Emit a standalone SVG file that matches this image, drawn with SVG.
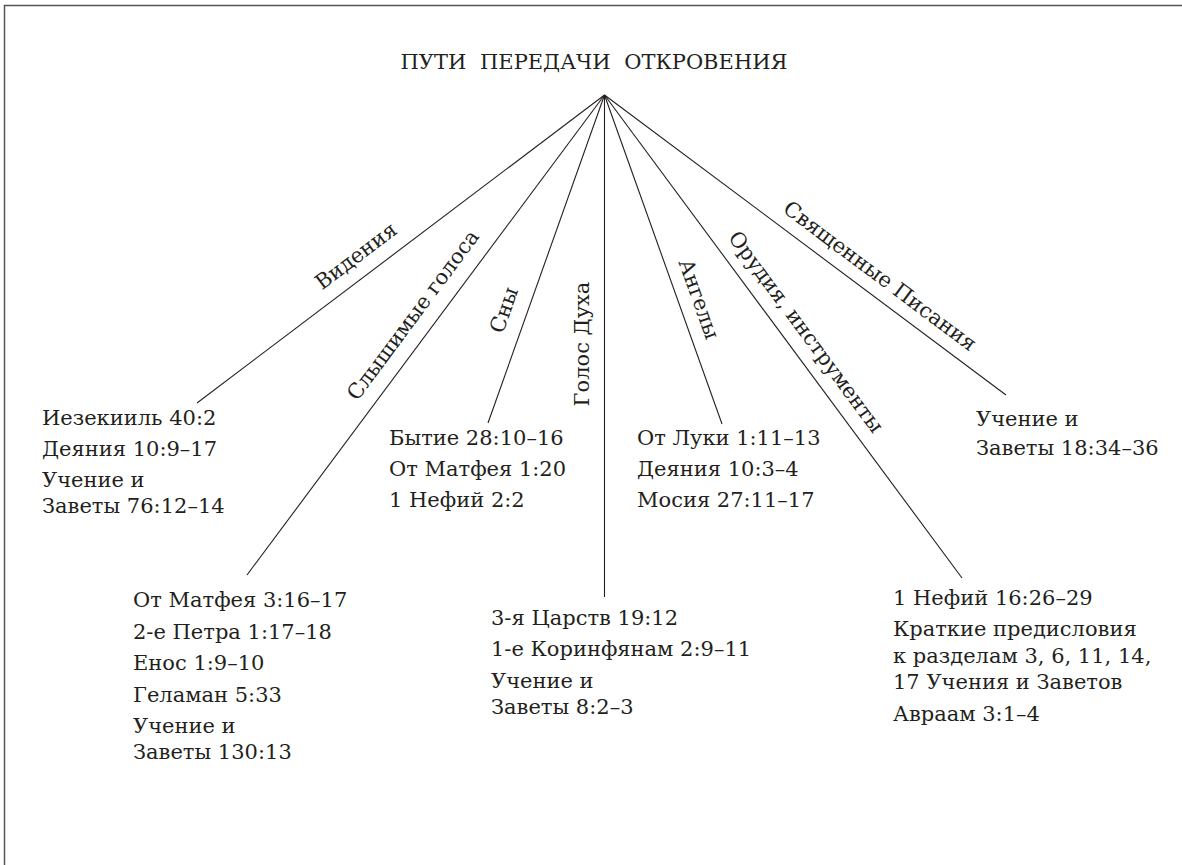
<svg xmlns="http://www.w3.org/2000/svg" width="1182" height="865" viewBox="0 0 1182 865">
<style>
text{font-family:'DejaVu Serif','Liberation Serif',serif;font-size:21px;fill:#231f20}
.lbl{text-anchor:middle}
.ttl{text-anchor:middle;font-size:21px;word-spacing:7px}
.ln{stroke:#231f20;stroke-width:1.1;fill:none}
.frame{stroke:#555;stroke-width:1.5;fill:none}
</style>
<rect width="1182" height="865" fill="#fff"/>
<path class="frame" d="M4.5,865 V5.5 H1182"/>
<g id="title"><text class="ttl" x="594" y="69">ПУТИ ПЕРЕДАЧИ ОТКРОВЕНИЯ</text></g>
<g id="connectors">
<line class="ln" x1="604.5" y1="95" x2="197" y2="403"/>
<line class="ln" x1="604.5" y1="95" x2="247" y2="575"/>
<line class="ln" x1="604.5" y1="95" x2="488" y2="423"/>
<line class="ln" x1="604.5" y1="95" x2="604.5" y2="597"/>
<line class="ln" x1="604.5" y1="95" x2="722" y2="424"/>
<line class="ln" x1="604.5" y1="95" x2="962" y2="578"/>
<line class="ln" x1="604.5" y1="95" x2="1006" y2="395"/>
</g>
<g id="label-videniya"><text class="lbl" transform="translate(356,256) rotate(-37.1)" y="7">Видения</text></g>
<g id="label-golosa"><text class="lbl" transform="translate(413,315) rotate(-53.4)" y="7">Слышимые голоса</text></g>
<g id="label-sny"><text class="lbl" transform="translate(504,310) rotate(-70.5)" y="7">Сны</text></g>
<g id="label-dukh"><text class="lbl" transform="translate(582,344) rotate(-90)" y="7">Голос Духа</text></g>
<g id="label-angely"><text class="lbl" transform="translate(699,299) rotate(70.3)" y="7">Ангелы</text></g>
<g id="label-orudiya"><text class="lbl" transform="translate(806,332) rotate(53.5)" y="7">Орудия, инструменты</text></g>
<g id="label-pisaniya"><text class="lbl" transform="translate(880,276) rotate(36.8)" y="7">Священные Писания</text></g>
<g id="node-videniya"><text x="42" y="425">Иезекииль 40:2</text><text x="42" y="456">Деяния 10:9–17</text><text x="42" y="487">Учение и</text><text x="42" y="513">Заветы 76:12–14</text></g>
<g id="node-golosa"><text x="133" y="607">От Матфея 3:16–17</text><text x="133" y="639">2-е Петра 1:17–18</text><text x="133" y="670">Енос 1:9–10</text><text x="133" y="702">Геламан 5:33</text><text x="133" y="733">Учение и</text><text x="133" y="759">Заветы 130:13</text></g>
<g id="node-sny"><text x="389" y="445">Бытие 28:10–16</text><text x="389" y="476">От Матфея 1:20</text><text x="389" y="507">1 Нефий 2:2</text></g>
<g id="node-dukh"><text x="491" y="625">3-я Царств 19:12</text><text x="491" y="656">1-е Коринфянам 2:9–11</text><text x="491" y="688">Учение и</text><text x="491" y="714">Заветы 8:2–3</text></g>
<g id="node-angely"><text x="637" y="445">От Луки 1:11–13</text><text x="637" y="476">Деяния 10:3–4</text><text x="637" y="507">Мосия 27:11–17</text></g>
<g id="node-orudiya"><text x="893" y="605">1 Нефий 16:26–29</text><text x="893" y="636">Краткие предисловия</text><text x="893" y="663">к разделам 3, 6, 11, 14,</text><text x="893" y="689">17 Учения и Заветов</text><text x="893" y="721">Авраам 3:1–4</text></g>
<g id="node-pisaniya"><text x="976" y="426">Учение и</text><text x="976" y="455">Заветы 18:34–36</text></g>
</svg>
